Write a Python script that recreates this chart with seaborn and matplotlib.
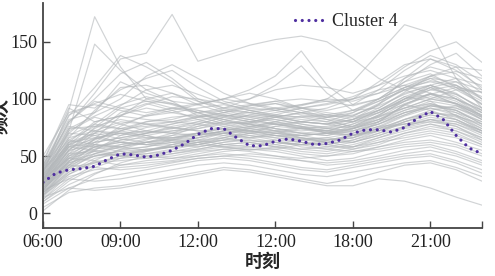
import numpy as np
import pandas as pd
import matplotlib
matplotlib.use("Agg")
import matplotlib.pyplot as plt
import seaborn as sns

# ---------------- data ----------------
hours = [6, 7, 8, 9, 10, 11, 12, 13, 14, 15, 16, 17, 18, 19, 20, 21, 22, 23]

gray_series = [
    [35, 90, 172, 128, 100, 95, 88, 80, 78, 72, 75, 70, 68, 80, 95, 105, 98, 85],
    [28, 72, 148, 125, 108, 98, 85, 78, 80, 84, 88, 82, 75, 85, 100, 112, 105, 90],
    [42, 78, 105, 135, 140, 174, 133, 140, 147, 152, 155, 150, 135, 118, 108, 100, 96, 88],
    [20, 45, 58, 62, 68, 72, 74, 80, 86, 90, 94, 100, 115, 140, 165, 158, 118, 92],
    [25, 52, 62, 66, 70, 75, 72, 74, 79, 86, 92, 96, 102, 112, 128, 142, 150, 132],
    [30, 60, 70, 78, 85, 90, 95, 100, 108, 120, 142, 112, 95, 100, 110, 118, 108, 96],
    [22, 50, 65, 72, 80, 82, 88, 92, 100, 112, 129, 105, 90, 92, 105, 112, 100, 88],
    [40, 85, 110, 138, 128, 115, 98, 92, 88, 85, 80, 78, 82, 90, 102, 110, 100, 85],
    [38, 80, 100, 122, 132, 118, 100, 92, 95, 98, 92, 88, 85, 95, 110, 120, 112, 95],
    [45, 95, 92, 108, 118, 125, 110, 98, 92, 90, 95, 100, 98, 105, 118, 128, 122, 105],
    [33, 70, 88, 115, 105, 98, 95, 100, 105, 100, 92, 90, 95, 108, 125, 138, 130, 115],
    [50, 88, 95, 90, 85, 88, 92, 95, 90, 85, 82, 80, 88, 100, 115, 130, 140, 120],
    [26, 55, 75, 92, 98, 96, 90, 85, 80, 78, 75, 72, 78, 88, 100, 108, 104, 92],
    [30, 62, 80, 85, 82, 80, 85, 90, 88, 84, 80, 78, 85, 96, 108, 118, 115, 100],
    [18, 40, 55, 68, 75, 78, 82, 85, 88, 92, 95, 98, 100, 105, 112, 120, 128, 125],
    [24, 55, 72, 80, 78, 75, 72, 70, 75, 80, 85, 82, 80, 90, 102, 98, 85, 72],
    [36, 68, 78, 74, 70, 72, 76, 80, 78, 74, 70, 72, 78, 85, 92, 96, 88, 76],
    [28, 58, 65, 70, 72, 70, 68, 72, 76, 80, 76, 70, 72, 80, 95, 105, 100, 90],
    [15, 38, 52, 60, 65, 68, 70, 74, 72, 68, 65, 66, 70, 78, 88, 95, 92, 82],
    [32, 62, 70, 65, 62, 65, 70, 68, 66, 70, 74, 72, 68, 72, 80, 88, 85, 78],
    [40, 70, 68, 62, 60, 64, 68, 72, 70, 66, 62, 60, 64, 72, 82, 90, 94, 86],
    [22, 48, 58, 62, 60, 58, 62, 66, 70, 72, 68, 64, 66, 75, 85, 92, 88, 80],
    [30, 55, 60, 58, 55, 60, 66, 70, 66, 62, 60, 62, 68, 76, 78, 82, 80, 72],
    [20, 42, 50, 55, 58, 62, 64, 60, 58, 60, 64, 66, 62, 68, 75, 80, 78, 70],
    [34, 58, 55, 52, 55, 58, 60, 64, 68, 64, 58, 56, 60, 66, 72, 78, 74, 66],
    [25, 50, 56, 60, 62, 60, 58, 62, 66, 68, 66, 62, 58, 62, 70, 76, 72, 64],
    [12, 30, 42, 50, 55, 58, 60, 58, 55, 58, 62, 60, 56, 60, 68, 72, 68, 60],
    [28, 52, 54, 50, 48, 52, 56, 60, 62, 58, 54, 52, 56, 62, 66, 70, 66, 58],
    [18, 36, 45, 48, 50, 52, 55, 58, 60, 62, 60, 56, 54, 58, 64, 68, 62, 55],
    [38, 60, 58, 54, 50, 48, 52, 56, 58, 56, 52, 50, 52, 58, 62, 64, 60, 52],
    [22, 40, 44, 46, 48, 50, 54, 56, 54, 50, 48, 50, 54, 56, 60, 62, 58, 50],
    [10, 25, 35, 42, 46, 48, 50, 54, 56, 54, 50, 46, 48, 54, 58, 60, 54, 46],
    [30, 48, 46, 42, 44, 46, 50, 52, 50, 48, 46, 44, 46, 50, 55, 58, 52, 44],
    [16, 32, 38, 40, 42, 45, 48, 50, 52, 50, 46, 42, 44, 48, 52, 55, 50, 42],
    [26, 42, 40, 38, 40, 44, 48, 50, 48, 44, 40, 38, 42, 46, 50, 52, 46, 38],
    [8, 22, 30, 34, 38, 42, 46, 48, 46, 42, 38, 36, 40, 44, 48, 50, 44, 35],
    [20, 30, 28, 30, 34, 38, 42, 44, 42, 38, 34, 32, 36, 40, 44, 46, 40, 32],
    [5, 18, 22, 24, 28, 32, 36, 40, 38, 34, 30, 26, 30, 36, 42, 44, 38, 28],
    [14, 22, 20, 22, 26, 30, 34, 38, 36, 32, 28, 24, 24, 30, 28, 22, 14, 7],
    [24, 45, 65, 85, 100, 105, 98, 90, 85, 82, 78, 75, 80, 88, 95, 90, 82, 70],
    [32, 66, 90, 110, 112, 105, 95, 88, 84, 88, 92, 95, 100, 108, 112, 105, 95, 82],
    [44, 92, 80, 85, 95, 102, 100, 96, 100, 108, 112, 110, 105, 112, 120, 125, 118, 100],
    [36, 80, 98, 92, 88, 92, 96, 100, 96, 92, 88, 92, 100, 115, 130, 135, 125, 110],
    [27, 58, 74, 86, 92, 88, 84, 88, 94, 98, 100, 98, 94, 100, 110, 115, 110, 98],
    [40, 76, 72, 68, 72, 78, 84, 88, 92, 96, 90, 84, 86, 94, 104, 112, 118, 112],
    [20, 48, 62, 76, 86, 92, 90, 86, 82, 78, 74, 76, 82, 92, 106, 120, 124, 118],
    [30, 64, 76, 82, 78, 74, 78, 84, 90, 92, 88, 84, 80, 84, 92, 100, 108, 106],
    [16, 42, 56, 64, 70, 74, 80, 86, 84, 80, 76, 74, 76, 86, 98, 110, 115, 108],
    [34, 74, 85, 95, 102, 96, 88, 82, 76, 72, 70, 68, 72, 78, 86, 94, 90, 78],
    [24, 50, 60, 58, 62, 68, 76, 82, 86, 84, 80, 78, 82, 95, 118, 135, 128, 108],
    [30, 60, 68, 72, 68, 62, 60, 64, 70, 76, 80, 84, 90, 100, 115, 122, 110, 95],
    [42, 82, 88, 100, 120, 130, 118, 105, 96, 90, 86, 84, 88, 98, 108, 112, 104, 92],
    [20, 44, 52, 58, 64, 70, 78, 84, 80, 74, 70, 68, 74, 84, 96, 102, 96, 84],
    [26, 56, 66, 70, 68, 64, 66, 72, 78, 84, 88, 86, 82, 88, 100, 110, 102, 88],
    [10, 28, 40, 48, 54, 60, 64, 66, 62, 58, 56, 58, 62, 70, 80, 86, 82, 72],
    [18, 34, 46, 56, 62, 64, 62, 58, 56, 56, 60, 64, 68, 74, 78, 80, 76, 66],
    [38, 64, 60, 56, 58, 64, 70, 74, 72, 68, 64, 62, 66, 74, 82, 88, 84, 74],
    [28, 54, 64, 74, 80, 84, 86, 82, 78, 74, 72, 74, 80, 90, 100, 104, 96, 84],
    [14, 36, 48, 52, 56, 58, 62, 68, 74, 78, 76, 72, 70, 76, 86, 94, 92, 84],
    [22, 46, 52, 50, 52, 56, 60, 66, 72, 76, 74, 70, 68, 72, 78, 84, 80, 70],
    [2, 20, 34, 44, 50, 54, 58, 62, 64, 60, 56, 54, 58, 66, 74, 78, 72, 62],
    [36, 72, 84, 78, 72, 70, 74, 78, 82, 86, 84, 80, 76, 82, 90, 98, 94, 82],
    [24, 52, 70, 88, 96, 90, 82, 76, 72, 70, 68, 70, 74, 82, 92, 100, 96, 86],
    [30, 58, 62, 66, 70, 76, 80, 78, 74, 70, 68, 70, 76, 86, 98, 108, 112, 102],
    [20, 46, 58, 64, 66, 66, 68, 72, 76, 78, 80, 78, 74, 80, 90, 96, 90, 78],
    [42, 86, 96, 104, 98, 92, 88, 90, 94, 96, 92, 86, 84, 90, 98, 104, 100, 90],
    [26, 48, 54, 58, 62, 66, 70, 70, 68, 66, 64, 64, 68, 74, 82, 88, 86, 76],
    [34, 66, 72, 70, 66, 66, 70, 76, 80, 82, 78, 74, 72, 78, 88, 94, 90, 80],
    [16, 40, 50, 54, 56, 58, 62, 64, 64, 62, 60, 60, 64, 70, 76, 82, 78, 68],
    [28, 60, 78, 94, 108, 112, 104, 96, 90, 86, 84, 86, 90, 98, 108, 116, 112, 100],
    [22, 44, 50, 52, 54, 58, 64, 70, 74, 72, 66, 62, 62, 68, 76, 82, 76, 64],
    [38, 74, 76, 74, 76, 80, 84, 86, 82, 78, 74, 72, 74, 82, 94, 104, 110, 106],
    [12, 34, 44, 50, 52, 54, 56, 60, 62, 64, 62, 58, 58, 64, 70, 74, 70, 60],
    [32, 62, 66, 62, 60, 62, 66, 70, 72, 70, 66, 64, 66, 72, 80, 86, 82, 72],
    [18, 42, 60, 72, 78, 80, 78, 74, 70, 68, 68, 70, 74, 80, 88, 92, 86, 74],
]

cluster_hours = [6.0, 6.5, 7.0, 7.5, 8.0, 8.5, 9.0, 9.5, 10.0, 10.5, 11.0, 11.5,
                 12.0, 12.5, 13.0, 13.5, 14.0, 14.5, 15.0, 15.5, 16.0, 16.5,
                 17.0, 17.5, 18.0, 18.5, 19.0, 19.5, 20.0, 20.5, 21.0, 21.5,
                 22.0, 22.5, 23.0]
cluster4 = [27, 35, 38, 39, 41, 47, 52, 51, 49, 51, 55, 61,
            69, 74, 74, 66, 59, 59, 63, 65, 63, 60,
            61, 64, 70, 73, 73, 71, 75, 83, 89, 82,
            68, 57, 52]

tick_pos = [6, 9, 12, 15, 18, 21, 23]
tick_labels = ["06:00", "09:00", "12:00", "12:00", "18:00", "21:00", ""]
y_ticks = [0, 50, 100, 150]

# ---------------- build frames ----------------
rows = []
for i, s in enumerate(gray_series):
    for h, v in zip(hours, s):
        rows.append({"id": i, "t": h, "v": v})
gray_df = pd.DataFrame(rows)
c4_df = pd.DataFrame({"t": cluster_hours, "v": cluster4})

# ---------------- plot ----------------
sns.set_style("ticks")
plt.rcParams["font.family"] = ["Liberation Serif", "Noto Sans CJK SC", "DejaVu Sans"]

fig = plt.figure(figsize=(4.95, 2.76), dpi=100)
ax = fig.add_axes([43 / 495, 48 / 276, 439 / 495, 225 / 276])

sns.lineplot(data=gray_df, x="t", y="v", units="id", estimator=None,
             color="#b3b7ba", linewidth=0.85, alpha=0.6, ax=ax, legend=False)
sns.lineplot(data=c4_df, x="t", y="v", ax=ax, color="#4f2fa0",
             linewidth=2.3, linestyle=(0, (0.01, 2.1)),
             dash_capstyle="round", label="Cluster 4")
for ln in ax.lines[-1:]:
    ln.set_dash_capstyle("round")

ax.set_xlim(6, 23)
ax.set_ylim(-13, 184)
ax.set_xticks(tick_pos)
ax.set_xticklabels(tick_labels)
ax.set_yticks(y_ticks)

for side in ["top", "right"]:
    ax.spines[side].set_visible(False)
for side in ["left", "bottom"]:
    ax.spines[side].set_color("#444444")
    ax.spines[side].set_linewidth(1.3)

ax.tick_params(direction="in", length=5, width=1, colors="#444444",
               labelcolor="#222222", labelsize=13, pad=4)

ax.set_xlabel("时刻", fontsize=13, fontfamily=["Noto Sans CJK SC", "DejaVu Sans"],
              fontweight="bold", labelpad=1)
ax.set_ylabel("频次", fontsize=13, fontfamily=["Noto Sans CJK SC", "DejaVu Sans"],
              fontweight="bold")
ax.yaxis.set_label_coords(-0.075, 0.5)

leg = ax.legend(loc="center left", bbox_to_anchor=(0.575, 0.916),
                frameon=False, fontsize=13, handlelength=1.7,
                handletextpad=0.35, borderpad=0, borderaxespad=0)
for h in leg.get_lines():
    h.set_dash_capstyle("round")

fig.savefig("out.png", dpi=100)
